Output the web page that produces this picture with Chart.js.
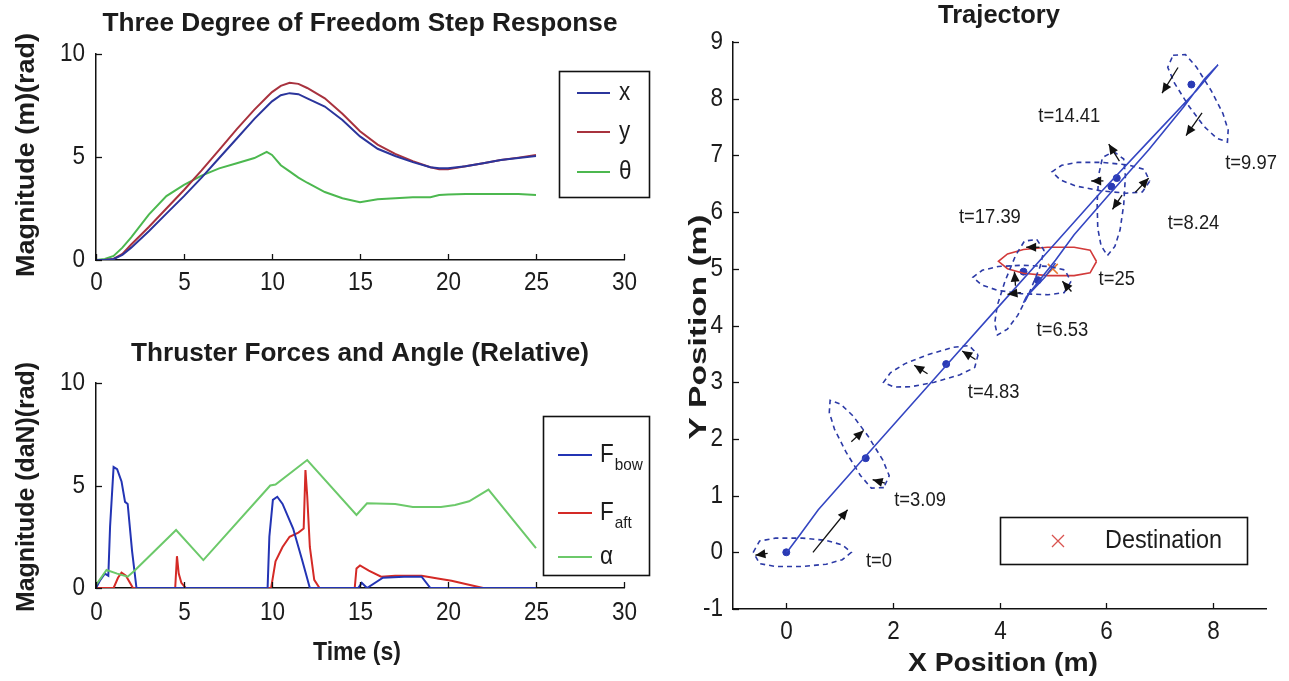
<!DOCTYPE html>
<html>
<head>
<meta charset="utf-8">
<script src="https://cdn.jsdelivr.net/npm/chart.js@4.4.1/dist/chart.umd.min.js"></script>
<style>
body{margin:0;background:#fff;width:1289px;height:681px;overflow:hidden;position:relative}
canvas{position:absolute}
</style>
</head>
<body>
<canvas id="stepChart" width="670" height="300" style="left:0;top:0"></canvas>
<canvas id="thrustChart" width="670" height="351" style="left:0;top:330px"></canvas>
<canvas id="trajChart" width="609" height="681" style="left:680px;top:0"></canvas>
<script>
// STEP RESPONSE (top left)
const stepTime  = [0, 0.5, 1, 1.5, 2, 3, 4, 5, 6, 7, 8, 9, 9.7, 10, 10.5, 11, 11.5, 12, 13, 14, 15, 16, 17, 18, 19, 19.5, 20, 21, 22, 23, 24, 25];
const stepX     = [0, 0, 0.05, 0.25, 0.6, 1.4, 2.25, 3.1, 4.0, 4.95, 5.9, 6.85, 7.45, 7.7, 8.0, 8.1, 8.05, 7.85, 7.45, 6.8, 6.0, 5.4, 5.05, 4.75, 4.5, 4.45, 4.45, 4.55, 4.7, 4.85, 4.95, 5.05];
const stepY     = [0, 0, 0.05, 0.3, 0.75, 1.6, 2.5, 3.4, 4.35, 5.35, 6.35, 7.3, 7.9, 8.15, 8.45, 8.6, 8.55, 8.35, 7.85, 7.1, 6.25, 5.6, 5.15, 4.8, 4.5, 4.4, 4.4, 4.55, 4.7, 4.85, 4.97, 5.1];
const stepTheta = [0, 0.05, 0.2, 0.6, 1.1, 2.2, 3.1, 3.65, 4.1, 4.45, 4.7, 4.95, 5.25, 5.1, 4.6, 4.3, 4.0, 3.75, 3.3, 3.0, 2.8, 2.95, 3.0, 3.05, 3.05, 3.15, 3.18, 3.2, 3.2, 3.2, 3.2, 3.15];
const stepNames = ["x", "y", "θ"];

// THRUSTER FORCES (bottom left)
const bowTime    = [0, 0.25, 0.5, 0.7, 0.8, 1.0, 1.2, 1.45, 1.65, 1.8, 2.05, 2.3, 9.75, 9.85, 10.05, 10.3, 10.6, 11.2, 11.7, 12.15, 14.9, 15.1, 15.4, 16.3, 17.5, 18.5, 19.0, 25];
const bowForce   = [0, 0.4, 0.7, 0.6, 3.0, 5.9, 5.8, 5.2, 4.2, 4.1, 1.8, 0, 0, 2.5, 4.3, 4.45, 4.1, 2.9, 1.4, 0, 0, 0.25, 0, 0.5, 0.55, 0.55, 0, 0];
const aftTime    = [0, 1.0, 1.25, 1.45, 1.7, 2.1, 4.5, 4.6, 4.7, 4.85, 5.1, 9.95, 10.2, 10.6, 11.0, 11.5, 11.8, 11.9, 12.0, 12.15, 12.4, 12.7, 14.7, 14.8, 15.0, 15.5, 16.2, 17.0, 18.5, 19.5, 20.2, 21.0, 21.5, 22.0, 25];
const aftForce   = [0, 0, 0.5, 0.75, 0.6, 0, 0, 1.55, 0.7, 0.25, 0, 0, 1.3, 2.0, 2.5, 2.7, 2.9, 5.75, 4.5, 2.0, 0.4, 0, 0, 0.95, 1.1, 0.85, 0.55, 0.6, 0.6, 0.45, 0.35, 0.2, 0.1, 0, 0];
const alphaTime  = [0, 0.6, 1.2, 1.8, 2.2, 4.55, 6.1, 9.9, 10.2, 12.0, 14.8, 15.4, 17.0, 18.0, 19.6, 20.4, 21.2, 22.3, 25];
const alphaAngle = [0.15, 0.88, 0.7, 0.55, 0.85, 2.83, 1.36, 5.0, 5.05, 6.24, 3.56, 4.13, 4.1, 3.95, 3.95, 4.05, 4.23, 4.8, 1.95];
const thrustNames = ["F", "F", "α"];
const thrustSubs  = ["bow", "aft", ""];

const timeTicks = [0, 5, 10, 15, 20, 25, 30];
const magTicks  = [0, 5, 10];

// TRAJECTORY (right)
const trajX = [0, 0.05, 0.25, 0.6, 1.4, 2.25, 3.1, 4.0, 4.95, 5.9, 6.85, 7.7, 8.1, 7.85, 7.45, 6.8, 6.0, 5.4, 5.05, 4.75, 4.5, 4.45, 4.55, 4.7, 4.85, 5.05];
const trajY = [0, 0.05, 0.3, 0.75, 1.6, 2.5, 3.4, 4.35, 5.35, 6.35, 7.3, 8.15, 8.6, 8.35, 7.85, 7.1, 6.25, 5.6, 5.15, 4.8, 4.5, 4.4, 4.55, 4.7, 4.85, 5.1];
// boat poses at the marked times (t=0, 3.09, 4.83, 6.53, 8.24, 9.97, 14.41, 17.39)
const poseX       = [0, 1.49, 3.0, 4.45, 6.1, 7.6, 6.2, 4.72];
const poseY       = [0, 1.66, 3.32, 4.95, 6.45, 8.25, 6.6, 4.8];
const poseHeading = [0, 2.15, 3.41, 4.3, 4.65, 5.3, 3.05, 3.1];
const finalX = [5.2], finalY = [5.13], finalHeading = [3.14];
const destX = [5], destY = [5];
const destName = "Destination";
// hull outline in the boat frame (m)
const hullBodyX = [-0.62, -0.5, -0.2, 0.3, 0.75, 1.05, 1.22, 1.05, 0.75, 0.3, -0.2, -0.5, -0.62];
const hullBodyY = [0, 0.2, 0.25, 0.25, 0.21, 0.13, 0, -0.13, -0.21, -0.25, -0.25, -0.2, 0];
// thruster arrows
const arrowX0 = [0.5, -0.35, 1.22, 1.85, 2.65, 3.55, 7.35, 7.8, 6.25, 5.95, 6.55, 6.3, 4.75, 4.3, 4.4, 5.35];
const arrowY0 = [0.0, -0.02, 1.95, 1.22, 3.15, 3.4, 8.55, 7.75, 6.9, 6.55, 6.35, 6.3, 5.38, 4.7, 4.58, 4.6];
const arrowX1 = [1.15, -0.58, 1.45, 1.62, 2.4, 3.3, 7.05, 7.5, 6.05, 5.72, 6.8, 6.12, 4.5, 4.28, 4.15, 5.18];
const arrowY1 = [0.75, -0.05, 2.15, 1.28, 3.3, 3.55, 8.1, 7.35, 7.2, 6.55, 6.6, 6.05, 5.38, 4.95, 4.55, 4.78];
const labelText = ["t=0", "t=3.09", "t=4.83", "t=6.53", "t=25", "t=17.39", "t=8.24", "t=14.41", "t=9.97"];
const labelX    = [1.74, 2.51, 3.89, 5.18, 6.2, 3.82, 7.64, 5.31, 8.72];
const labelY    = [-0.16, 0.92, 2.81, 3.91, 4.82, 5.91, 5.8, 7.68, 6.86];
const posTicksX = [0, 2, 4, 6, 8];
const posTicksY = [-1, 0, 1, 2, 3, 4, 5, 6, 7, 8, 9];

const FONT = '"Liberation Sans", Arial, sans-serif';
Chart.defaults.animation = false;

function pts(xs, ys){
return xs.map((v, i) => ({x: v, y: ys[i]}));
}

function hullPoints(cx, cy, h){
return hullBodyX.map((bx, i) => ({
x: cx + bx*Math.cos(h) - hullBodyY[i]*Math.sin(h),
y: cy + bx*Math.sin(h) + hullBodyY[i]*Math.cos(h)
}));
}

function putText(ctx, t){
ctx.save();
ctx.font = t.font;
ctx.fillStyle = t.color || "#1c1c1c";
ctx.textBaseline = "middle";
ctx.textAlign = t.align || "center";
let sx = t.sx || 1;
if(t.w){ sx = t.w / ctx.measureText(t.text).width; }
ctx.translate(t.x, t.y);
if(t.rot){ ctx.rotate(t.rot); }
ctx.scale(sx, 1);
ctx.fillText(t.text, 0, 0);
ctx.restore();
}

// ticks (inward, matlab style), tick labels, titles, legends, arrows
const decor = {
id: "decor",
afterDraw(chart, args, o){
const ctx = chart.ctx, xs = chart.scales.x, ys = chart.scales.y;
ctx.save();
ctx.strokeStyle = "#111";
ctx.lineWidth = 1.3;
xs.ticks.forEach(t => {
let px = Math.round(xs.getPixelForValue(t.value)) + 0.5;
ctx.beginPath(); ctx.moveTo(px, ys.bottom); ctx.lineTo(px, ys.bottom - 6); ctx.stroke();
putText(ctx, {text: String(t.value), x: px, y: ys.bottom + o.xGap, font: o.tickFont, sx: o.tickSx});
});
ys.ticks.forEach(t => {
let py = Math.round(ys.getPixelForValue(t.value)) + 0.5;
ctx.beginPath(); ctx.moveTo(xs.left, py); ctx.lineTo(xs.left + 6, py); ctx.stroke();
putText(ctx, {text: String(t.value), x: xs.left - o.yGap, y: py, font: o.tickFont, sx: o.tickSx, align: "right"});
});

(o.texts || []).forEach(t => putText(ctx, t));

// arrows
if(o.arrows){
ctx.strokeStyle = "#111"; ctx.fillStyle = "#111"; ctx.lineWidth = 1.3;
o.arrows.x0.forEach((v, i) => {
let ax = xs.getPixelForValue(v), ay = ys.getPixelForValue(o.arrows.y0[i]);
let bx = xs.getPixelForValue(o.arrows.x1[i]), by = ys.getPixelForValue(o.arrows.y1[i]);
let a = Math.atan2(by - ay, bx - ax);
ctx.beginPath(); ctx.moveTo(ax, ay); ctx.lineTo(bx, by); ctx.stroke();
ctx.beginPath();
ctx.moveTo(bx, by);
ctx.lineTo(bx - 10*Math.cos(a) + 4.5*Math.sin(a), by - 10*Math.sin(a) - 4.5*Math.cos(a));
ctx.lineTo(bx - 10*Math.cos(a) - 4.5*Math.sin(a), by - 10*Math.sin(a) + 4.5*Math.cos(a));
ctx.closePath(); ctx.fill();
});
}

// point labels (data coords)
if(o.labels){
o.labels.text.forEach((s, i) => putText(ctx, {
text: s, x: xs.getPixelForValue(o.labels.x[i]), y: ys.getPixelForValue(o.labels.y[i]),
font: o.labels.font, sx: o.labels.sx
}));
}

// legend box
if(o.legend){
const L = o.legend;
ctx.fillStyle = "#fff";
ctx.fillRect(L.x, L.y, L.w, L.h);
ctx.strokeStyle = "#111"; ctx.lineWidth = 1.6;
ctx.strokeRect(L.x + 0.5, L.y + 0.5, L.w, L.h);
L.items.forEach((it, i) => {
let ry = L.y + L.rows[i];
if(it.marker){
ctx.strokeStyle = it.color; ctx.lineWidth = 1.3;
ctx.beginPath();
ctx.moveTo(L.x + L.lineX0 - 6, ry - 6); ctx.lineTo(L.x + L.lineX0 + 6, ry + 6);
ctx.moveTo(L.x + L.lineX0 + 6, ry - 6); ctx.lineTo(L.x + L.lineX0 - 6, ry + 6);
ctx.stroke();
} else {
ctx.strokeStyle = it.color; ctx.lineWidth = 2.2;
ctx.beginPath(); ctx.moveTo(L.x + L.lineX0, ry); ctx.lineTo(L.x + L.lineX1, ry); ctx.stroke();
}
putText(ctx, {text: it.text, x: L.x + L.textX, y: ry, font: L.font, sx: L.sx, align: "left"});
if(it.sub){
ctx.font = L.font;
let w = ctx.measureText(it.text).width * L.sx;
putText(ctx, {text: it.sub, x: L.x + L.textX + w + 1, y: ry + 10, font: L.subFont, sx: L.sx, align: "left"});
}
});
}
ctx.restore();
}
};

function axisOpts(min, max, tickVals, fitSize, isX){
return {
type: "linear", min: min, max: max,
grid: {display: false},
border: {display: true, color: "#111", width: 1.5},
ticks: {display: false},
afterBuildTicks: s => { s.ticks = tickVals.map(v => ({value: v})); },
afterFit: s => { if(isX){ s.height = fitSize; } else { s.width = fitSize; } }
};
}

function lineSet(label, xs, ys, color){
return {label: label, data: pts(xs, ys), borderColor: color, borderWidth: 2, pointRadius: 0, tension: 0, fill: false};
}

const TICK_FONT = "25px " + FONT;
const BOLD = "bold 25px " + FONT;

// STEP RESPONSE CHART
new Chart(document.getElementById("stepChart"), {
type: "line",
data: {
datasets: [
lineSet(stepNames[0], stepTime, stepX, "#2b359c"),
lineSet(stepNames[1], stepTime, stepY, "#a8323e"),
lineSet(stepNames[2], stepTime, stepTheta, "#4cb84f")
]
},
options: {
responsive: false,
layout: {padding: {top: 54, right: 46, left: 0, bottom: 0}},
plugins: {
legend: {display: false}, tooltip: {enabled: false},
decor: {
tickFont: TICK_FONT, tickSx: 0.9, xGap: 23, yGap: 11,
texts: [
{text: "Three Degree of Freedom Step Response", x: 360, y: 24, font: BOLD, w: 515},
{text: "Magnitude (m)(rad)", x: 27, y: 155, font: BOLD, w: 244, rot: -Math.PI/2}
],
legend: {
x: 559, y: 71, w: 90, h: 126, rows: [22, 61, 101], lineX0: 18, lineX1: 51, textX: 60,
font: "25px " + FONT, subFont: "17px " + FONT, sx: 0.9,
items: [
{text: stepNames[0], color: "#2b359c"},
{text: stepNames[1], color: "#a8323e"},
{text: stepNames[2], color: "#4cb84f"}
]
}
}
},
scales: {
x: axisOpts(0, 30, timeTicks, 40, true),
y: axisOpts(0, 10, magTicks, 96, false)
}
},
plugins: [decor]
});

// THRUSTER CHART
new Chart(document.getElementById("thrustChart"), {
type: "line",
data: {
datasets: [
lineSet(thrustNames[2], alphaTime, alphaAngle, "#6cc96a"),
lineSet(thrustNames[0], bowTime, bowForce, "#2334b4"),
lineSet(thrustNames[1], aftTime, aftForce, "#d42a26")
]
},
options: {
responsive: false,
layout: {padding: {top: 53, right: 46, left: 0, bottom: 0}},
plugins: {
legend: {display: false}, tooltip: {enabled: false},
decor: {
tickFont: TICK_FONT, tickSx: 0.9, xGap: 25, yGap: 11,
texts: [
{text: "Thruster Forces and Angle (Relative)", x: 360, y: 24, font: BOLD, w: 458},
{text: "Magnitude (daN)(rad)", x: 27, y: 157, font: BOLD, w: 250, rot: -Math.PI/2},
{text: "Time (s)", x: 357, y: 323, font: BOLD, w: 88}
],
legend: {
x: 543, y: 86, w: 106, h: 159, rows: [39, 97, 141], lineX0: 15, lineX1: 49, textX: 57,
font: "25px " + FONT, subFont: "17px " + FONT, sx: 0.9,
items: [
{text: thrustNames[0], sub: thrustSubs[0], color: "#2334b4"},
{text: thrustNames[1], sub: thrustSubs[1], color: "#d42a26"},
{text: thrustNames[2], color: "#6cc96a"}
]
}
}
},
scales: {
x: axisOpts(0, 30, timeTicks, 93, true),
y: axisOpts(0, 10, magTicks, 96, false)
}
},
plugins: [decor]
});

// TRAJECTORY CHART
const hullSets = poseX.map((px, i) => ({
data: hullPoints(px, poseY[i], poseHeading[i]),
showLine: true, borderColor: "#2c3aa6", borderWidth: 1.6, borderDash: [5, 4], pointRadius: 0, tension: 0, fill: false
}));

new Chart(document.getElementById("trajChart"), {
type: "scatter",
data: {
datasets: [
{data: pts(trajX, trajY), showLine: true, borderColor: "#3446c2", borderWidth: 1.6, pointRadius: 0, tension: 0},
...hullSets,
{data: hullPoints(finalX[0], finalY[0], finalHeading[0]), showLine: true, borderColor: "#d23a3a", borderWidth: 1.6, pointRadius: 0, tension: 0},
{data: pts(poseX, poseY), pointRadius: 3.5, backgroundColor: "#2a3ab4", borderColor: "#2a3ab4"},
{data: pts(destX, destY), pointStyle: "crossRot", pointRadius: 7, borderWidth: 1.6, borderColor: "#e8782e"}
]
},
options: {
responsive: false,
layout: {padding: {top: 42, right: 23, left: 0, bottom: 0}},
plugins: {
legend: {display: false}, tooltip: {enabled: false},
decor: {
tickFont: TICK_FONT, tickSx: 0.9, xGap: 23, yGap: 10,
texts: [
{text: "Trajectory", x: 319, y: 16, font: BOLD, w: 122},
{text: "Y Position (m)", x: 20, y: 327, font: "bold 23px " + FONT, w: 225, rot: -Math.PI/2},
{text: "X Position (m)", x: 323, y: 664, font: BOLD, w: 190}
],
arrows: {x0: arrowX0, y0: arrowY0, x1: arrowX1, y1: arrowY1},
labels: {text: labelText, x: labelX, y: labelY, font: "20px " + FONT, sx: 0.92},
legend: {
x: 320, y: 517, w: 247, h: 47, rows: [24], lineX0: 58, lineX1: 58, textX: 105,
font: "26px " + FONT, subFont: "17px " + FONT, sx: 0.9,
items: [{text: destName, color: "#d9534f", marker: true}]
}
}
},
scales: {
x: axisOpts(-1, 9, posTicksX, 72, true),
y: axisOpts(-1, 9, posTicksY, 53, false)
}
},
plugins: [decor]
});
</script>
</body>
</html>
